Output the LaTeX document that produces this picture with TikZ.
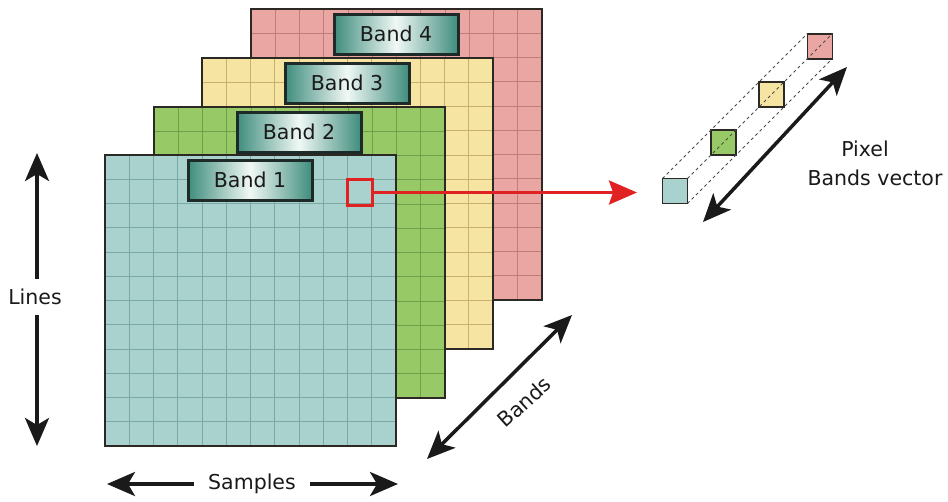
\documentclass[tikz,border=0pt]{standalone}
\usepackage{fontspec}
\setmainfont{DejaVu Sans}
\usetikzlibrary{arrows.meta}
\definecolor{tealF}{HTML}{A9D1CD}
\definecolor{tealG}{HTML}{7AA9A3}
\definecolor{greenF}{HTML}{97C966}
\definecolor{greenG}{HTML}{6F9F48}
\definecolor{yellowF}{HTML}{F6E4A2}
\definecolor{yellowG}{HTML}{C9B070}
\definecolor{redF}{HTML}{E9A6A2}
\definecolor{redG}{HTML}{BF7E7A}
\definecolor{borderc}{HTML}{2C2824}
\definecolor{boxdark}{HTML}{3F8D7D}
\definecolor{boxlight}{HTML}{F0F8F5}
\definecolor{boxborder}{HTML}{1E2A28}
\definecolor{inkc}{HTML}{1A1A1A}
\definecolor{pixred}{HTML}{E02222}
\newcommand\bandsq[6]{%
  \fill[#3] (#1,#2) rectangle ++(291,291);
  \foreach \i in {1,...,11}{%
    \draw[#4, line width=1pt] ({#1+\i*24.25},#2) -- ++(0,291);
    \draw[#4, line width=1pt] (#1,{#2+\i*24.25}) -- ++(291,0);
  }
  \draw[borderc, line width=2.2pt] (#1,#2) rectangle ++(291,291);
  \node[labelbox, anchor=north west] (#6) at ({#1+83},{#2+5}) {#5};
}
\begin{document}
\begin{tikzpicture}[x=1pt,y=-1pt,
  every node/.style={font=\fontsize{20.5}{24}\selectfont, text=inkc},
  labelbox/.style={draw=boxborder, line width=3pt, minimum width=124pt, minimum height=40pt,
     inner sep=0pt, outer sep=0pt, left color=boxdark, right color=boxdark, middle color=boxlight},
  bigarrow/.style={line width=3.5pt, draw=inkc, -{Stealth[length=28pt,width=24pt,inset=7pt]}},
  dblarrow/.style={line width=3.5pt, draw=inkc, {Stealth[length=28pt,width=24pt,inset=7pt]}-{Stealth[length=28pt,width=24pt,inset=7pt]}},
  cube/.style={draw=borderc, line width=1.8pt, minimum size=25pt, inner sep=0pt, outer sep=0pt},
  dashln/.style={draw=black!70, line width=0.8pt, dash pattern=on 3pt off 3pt},
  axislabel/.style={inner sep=10pt}
]
\useasboundingbox (0,0) rectangle (948,501);
\fill[white] (0,0) rectangle (948,501);

% stacked bands
\bandsq{251}{9}{redF}{redG}{Band 4}{b4}
\bandsq{202}{58}{yellowF}{yellowG}{Band 3}{b3}
\bandsq{154}{107}{greenF}{greenG}{Band 2}{b2}
\bandsq{105}{155}{tealF}{tealG}{Band 1}{b1}

% selected pixel and red arrow
\node[draw=pixred, line width=3pt, minimum width=25pt, minimum height=26pt, inner sep=0pt, outer sep=0pt] (px) at (359.5,192.5) {};
\coordinate (redtip) at (637,192.5);
\draw[pixred, line width=3pt, -{Stealth[length=28pt,width=24pt,inset=4pt]}] (px.east) -- (redtip);

% pixel band vector
\node[cube, fill=tealF] (c1) at (675,191) {};
\node[cube, fill=greenF] (c2) at (723.3,142.7) {};
\node[cube, fill=yellowF] (c3) at (771.6,94.4) {};
\node[cube, fill=redF] (c4) at (819.9,46.1) {};
\draw[dashln] (c1.north west) -- (c4.north west);
\draw[dashln] (c1.south east) -- (c4.south east);
\draw[dashln] (c1.north east) -- (c4.north east);

\coordinate (pv1) at (703,222);
\coordinate (pv2) at (847,67);
\draw[dblarrow] (pv1) -- (pv2);
\node (pixel) at (865,149) {Pixel};
\node (bvec) at (875,178) {Bands vector};

% Lines axis
\node[axislabel] (lines) at (35,297) {Lines};
\coordinate (ltop) at (37,153);
\coordinate (lbot) at (37,446);
\draw[bigarrow] (lines.north -| ltop) -- (ltop);
\draw[bigarrow] (lines.south -| lbot) -- (lbot);

% Samples axis
\node[axislabel, inner xsep=14pt] (samples) at (252,484) {Samples};
\coordinate (sleft) at (107,484);
\coordinate (sright) at (398,484);
\draw[bigarrow] (samples.west) -- (sleft);
\draw[bigarrow] (samples.east) -- (sright);

% Bands axis
\coordinate (bd1) at (427,459);
\coordinate (bd2) at (572,315);
\draw[dblarrow] (bd1) -- (bd2);
\node[rotate=42, inner sep=1pt] (bandslbl) at (524,402) {Bands};
\end{tikzpicture}
\end{document}
